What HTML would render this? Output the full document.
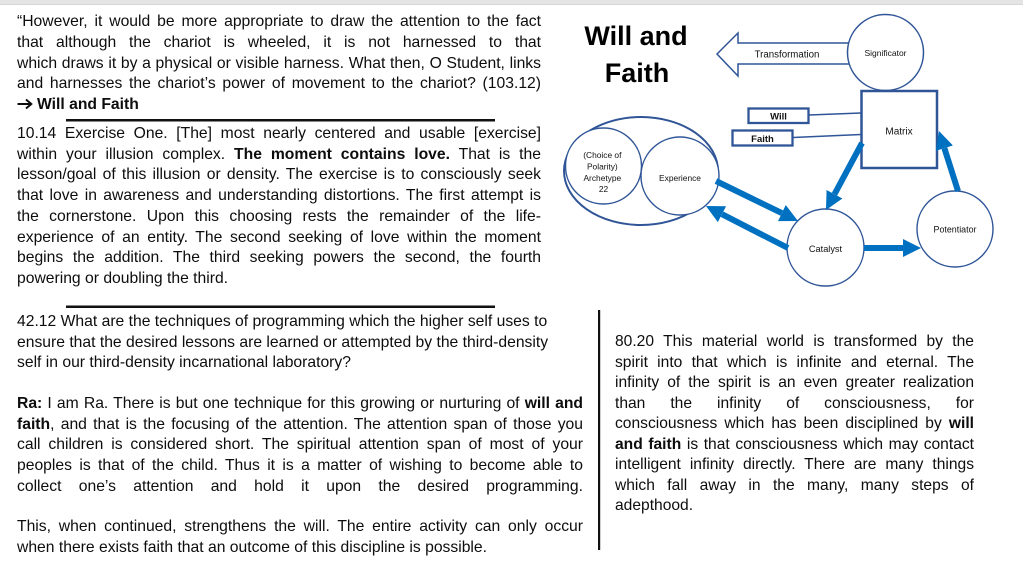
<!DOCTYPE html>
<html>
<head>
<meta charset="utf-8">
<style>
  html,body{margin:0;padding:0;background:#fff;}
  body{width:1023px;height:577px;position:relative;overflow:hidden;
       font-family:"Liberation Sans",Arial,sans-serif;color:#0d0d0d;}
  .topbar{position:absolute;left:0;top:0;width:1023px;height:4px;background:#e4e4e4;border-bottom:1px solid #d6d6d6;}
  .blk{position:absolute;font-size:15.7px;line-height:20.7px;}
  .blk div{text-align:justify;text-align-last:justify;}
  .blk div.l{text-align:left;text-align-last:left;}
  .r{font-size:15.6px;line-height:20.5px;}
  b{font-weight:bold;}
  svg.main{position:absolute;left:0;top:0;}
  svg.arr{display:inline-block;vertical-align:-1px;margin-right:4px;}
</style>
</head>
<body>
<div class="topbar"></div>

<div class="blk" style="left:17px;top:12.3px;width:524px;">
  <div>“However, it would be more appropriate to draw the attention to the fact</div>
  <div>that although the chariot is wheeled, it is not harnessed to that</div>
  <div>which draws it by a physical or visible harness. What then, O Student, links</div>
  <div>and harnesses the chariot’s power of movement to the chariot? (103.12)</div>
  <div class="l"><svg class="arr" width="16" height="12" viewBox="0 0 16 12"><line x1="0.5" y1="6" x2="14" y2="6" stroke="#0d0d0d" stroke-width="2"/><polyline points="9,1.5 14.3,6 9,10.5" fill="none" stroke="#0d0d0d" stroke-width="2"/></svg><b>Will and Faith</b></div>
</div>

<div class="blk" style="left:17px;top:124px;width:524px;">
  <div>10.14 Exercise One. [The] most nearly centered and usable [exercise]</div>
  <div>within your illusion complex. <b>The moment contains love.</b> That is the</div>
  <div>lesson/goal of this illusion or density. The exercise is to consciously seek</div>
  <div>that love in awareness and understanding distortions. The first attempt is</div>
  <div>the cornerstone. Upon this choosing rests the remainder of the life-</div>
  <div>experience of an entity. The second seeking of love within the moment</div>
  <div>begins the addition. The third seeking powers the second, the fourth</div>
  <div class="l">powering or doubling the third.</div>
</div>

<div class="blk" style="left:17px;top:312px;width:566px;">
  <div class="l">42.12 What are the techniques of programming which the higher self uses to</div>
  <div class="l">ensure that the desired lessons are learned or attempted by the third-density</div>
  <div class="l">self in our third-density incarnational laboratory?</div>
</div>

<div class="blk" style="left:17px;top:394px;width:566px;">
  <div><b>Ra:</b> I am Ra. There is but one technique for this growing or nurturing of <b>will and</b></div>
  <div><b>faith</b>, and that is the focusing of the attention. The attention span of those you</div>
  <div>call children is considered short. The spiritual attention span of most of your</div>
  <div>peoples is that of the child. Thus it is a matter of wishing to become able to</div>
  <div>collect one’s attention and hold it upon the desired programming.</div>
</div>

<div class="blk" style="left:17px;top:517px;width:566px;">
  <div>This, when continued, strengthens the will. The entire activity can only occur</div>
  <div class="l">when there exists faith that an outcome of this discipline is possible.</div>
</div>

<div class="blk r" style="left:615px;top:332px;width:359px;">
  <div>80.20 This material world is transformed by the</div>
  <div>spirit into that which is infinite and eternal. The</div>
  <div>infinity of the spirit is an even greater realization</div>
  <div>than the infinity of consciousness, for</div>
  <div>consciousness which has been disciplined by <b>will</b></div>
  <div><b>and faith</b> is that consciousness which may contact</div>
  <div>intelligent infinity directly. There are many things</div>
  <div>which fall away in the many, many steps of</div>
  <div class="l">adepthood.</div>
</div>

<svg class="main" width="1023" height="577" viewBox="0 0 1023 577" xmlns="http://www.w3.org/2000/svg">
  <defs>
    <marker id="ah" viewBox="0 0 10 10" refX="0" refY="5" markerWidth="3" markerHeight="3" orient="auto" markerUnits="strokeWidth">
      <path d="M0,0 L10,5 L0,10 z" fill="#0070c0"/>
    </marker>
  </defs>

  <!-- rules -->
  <rect x="66" y="119" width="429" height="2.5" fill="#111"/>
  <rect x="66" y="305.5" width="429" height="2.5" fill="#111"/>
  <rect x="598" y="310" width="2.2" height="240" fill="#111"/>

  <!-- title -->
  <text x="636" y="45" font-family="Liberation Sans, Arial, sans-serif" font-size="27" font-weight="bold" text-anchor="middle" fill="#000">Will and</text>
  <text x="637" y="82" font-family="Liberation Sans, Arial, sans-serif" font-size="27" font-weight="bold" text-anchor="middle" fill="#000">Faith</text>

  <g font-family="Liberation Sans, Arial, sans-serif" fill="#111" text-anchor="middle">
    <!-- Transformation arrow -->
    <polygon points="717,54 738,33 738,43 852,43 852,64 738,64 738,76" fill="#fff" stroke="#2f5597" stroke-width="1.5" stroke-linejoin="miter"/>
    <text x="787" y="57.5" font-size="9.7">Transformation</text>

    <!-- Significator -->
    <circle cx="885.5" cy="52.5" r="38" fill="#fff" stroke="#2f5597" stroke-width="1.5"/>
    <text x="885.5" y="56" font-size="8.5">Significator</text>

    <!-- Matrix -->
    <rect x="861.5" y="91" width="75.5" height="77" fill="#fff" stroke="#2f5597" stroke-width="2.5"/>
    <text x="899" y="134.5" font-size="10">Matrix</text>

    <!-- Will / Faith -->
    <line x1="809" y1="115" x2="861" y2="113" stroke="#2f5597" stroke-width="1.5"/>
    <line x1="793" y1="137.5" x2="861" y2="134.5" stroke="#2f5597" stroke-width="1.5"/>
    <rect x="748.5" y="108.5" width="60" height="14.5" fill="#fff" stroke="#2f5597" stroke-width="2.3"/>
    <text x="778.5" y="119.5" font-size="9.5" font-weight="bold">Will</text>
    <rect x="732.5" y="130.5" width="60" height="15" fill="#fff" stroke="#2f5597" stroke-width="2.3"/>
    <text x="762.5" y="141.8" font-size="9.5" font-weight="bold">Faith</text>

    <!-- Ellipse group -->
    <ellipse cx="641" cy="171" rx="77" ry="54" fill="#fff" stroke="#2f5597" stroke-width="2"/>
    <circle cx="603.5" cy="166" r="38" fill="#fff" stroke="#2f5597" stroke-width="1.4"/>
    <circle cx="680" cy="176" r="39" fill="#fff" stroke="#2f5597" stroke-width="1.4"/>
    <text font-size="8.4">
      <tspan x="603.5" y="158">(Choice of</tspan>
      <tspan x="603.5" y="169.5">Polarity)</tspan>
      <tspan x="603.5" y="181">Archetype</tspan>
      <tspan x="603.5" y="192">22</tspan>
    </text>
    <text x="680" y="181" font-size="8.4">Experience</text>

    <!-- Catalyst -->
    <circle cx="825.5" cy="247.5" r="38.5" fill="#fff" stroke="#2f5597" stroke-width="1.4"/>
    <text x="825.5" y="252" font-size="9.2">Catalyst</text>

    <!-- Potentiator -->
    <circle cx="955" cy="229" r="38" fill="#fff" stroke="#2f5597" stroke-width="1.4"/>
    <text x="955" y="232.5" font-size="8.9">Potentiator</text>
  </g>

  <!-- blue arrows -->
  <g stroke="#0070c0" stroke-width="6" fill="none" stroke-linecap="butt">
    <line x1="862" y1="143" x2="834.5" y2="194.2" marker-end="url(#ah)"/>
    <line x1="716" y1="181" x2="781.8" y2="213.1" marker-end="url(#ah)"/>
    <line x1="788" y1="248" x2="722" y2="214.2" marker-end="url(#ah)"/>
    <line x1="864" y1="248" x2="903" y2="248" marker-end="url(#ah)"/>
    <line x1="958" y1="191" x2="944.4" y2="148.2" marker-end="url(#ah)"/>
  </g>
</svg>
</body>
</html>
